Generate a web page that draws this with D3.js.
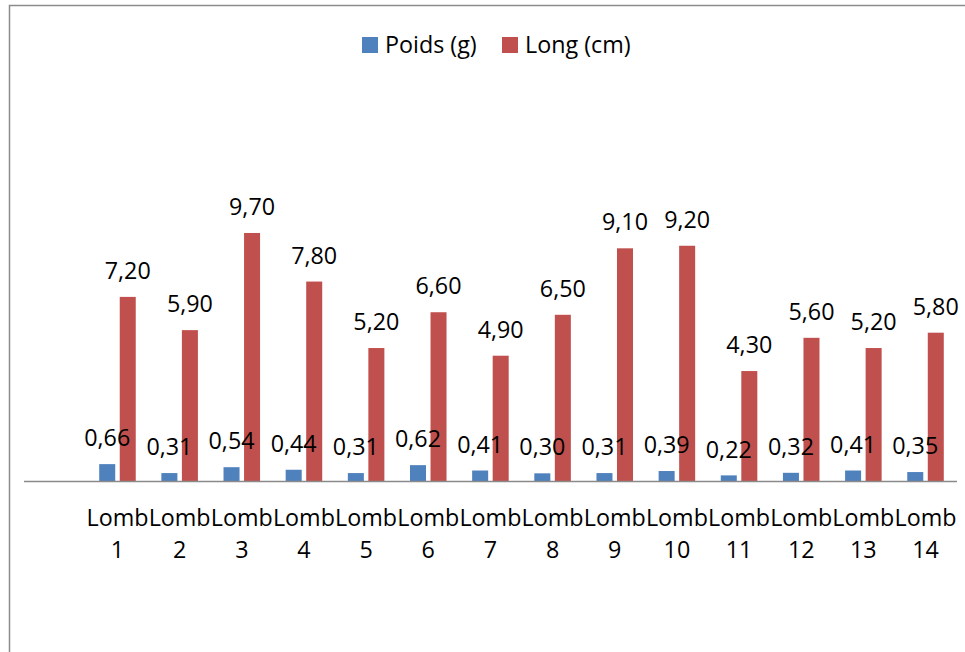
<!DOCTYPE html>
<html><head><meta charset="utf-8">
<script src="https://cdn.jsdelivr.net/npm/d3@7"></script>
<style>html,body{margin:0;padding:0;background:#fff;overflow:hidden}</style>
</head><body>
<svg id="c" width="965" height="652"></svg>
<script>
const categories = ["Lomb 1","Lomb 2","Lomb 3","Lomb 4","Lomb 5","Lomb 6","Lomb 7","Lomb 8","Lomb 9","Lomb 10","Lomb 11","Lomb 12","Lomb 13","Lomb 14"];
const seriesNames = ["Poids (g)","Long (cm)"];
const poids = [0.66,0.31,0.54,0.44,0.31,0.62,0.41,0.30,0.31,0.39,0.22,0.32,0.41,0.35];
const longueur = [7.20,5.90,9.70,7.80,5.20,6.60,4.90,6.50,9.10,9.20,4.30,5.60,5.20,5.80];
const colors = ["#4F81BD","#C0504D"];

const svg = d3.select("#c");
const font = "'Open Sans', 'Liberation Sans', sans-serif";
const fs = 23.3;

svg.append("rect").attr("x",9.5).attr("y",5.5).attr("width",980).attr("height",700)
  .attr("fill","none").attr("stroke","#8c8c8c").attr("stroke-width",1.5);

const x0 = d3.scaleBand().domain(categories).range([86.4,956.6]).paddingInner(0).paddingOuter(0);
const x1 = d3.scaleBand().domain(seriesNames).range([0,x0.bandwidth()]).paddingInner(0.22).paddingOuter(0.624);
const y = d3.scaleLinear().domain([0,10]).range([481,225.3]);

const data = categories.map((c,i)=>({cat:c, vals:[poids[i],longueur[i]]}));

const g = svg.append("g");
const groups = g.selectAll("g.grp").data(data).enter().append("g")
  .attr("transform",d=>`translate(${x0(d.cat)},0)`);
groups.selectAll("rect").data(d=>d.vals.map((v,j)=>({s:seriesNames[j],v,j}))).enter().append("rect")
  .attr("x",d=>x1(d.s)).attr("width",x1.bandwidth())
  .attr("y",d=>y(d.v)).attr("height",d=>y(0)-y(d.v))
  .attr("fill",d=>colors[d.j]);

// axis line
svg.append("line").attr("x1",24).attr("x2",957).attr("y1",481.5).attr("y2",481.5)
  .attr("stroke","#8a8a8a").attr("stroke-width",1.5);

// labels
groups.selectAll("text.val").data(d=>d.vals.map((v,j)=>({s:seriesNames[j],v,j}))).enter().append("text")
  .attr("class","val")
  .attr("x",d=>x1(d.s)+x1.bandwidth()/2)
  .attr("y",d=>y(d.v)-26)
  .attr("dy","0.35em")
  .attr("text-anchor","middle")
  .style("font-family",font).style("font-size",fs+"px").attr("fill","#000")
  .text(d=>d3.format(".2f")(d.v).replace(".",","));

// category labels
const xa = svg.append("g");
categories.forEach(c=>{
  const parts = c.split(" ");
  const t = xa.append("text").attr("x",x0(c)+x0.bandwidth()/2).attr("text-anchor","middle")
    .style("font-family",font).style("font-size",fs+"px").attr("fill","#000");
  t.append("tspan").attr("x",x0(c)+x0.bandwidth()/2).attr("y",518).attr("dy","0.35em").text(parts[0]);
  t.append("tspan").attr("x",x0(c)+x0.bandwidth()/2).attr("y",550).attr("dy","0.35em").text(parts[1]);
});

// legend
const legX = [362,502];
seriesNames.forEach((s,i)=>{
  svg.append("rect").attr("x",legX[i]).attr("y",37).attr("width",16).attr("height",16).attr("fill",colors[i]);
  svg.append("text").attr("x",legX[i]+23).attr("y",45).attr("dy","0.35em")
    .style("font-family",font).style("font-size",fs+"px").attr("fill","#000").text(s);
});
</script>
</body></html>
